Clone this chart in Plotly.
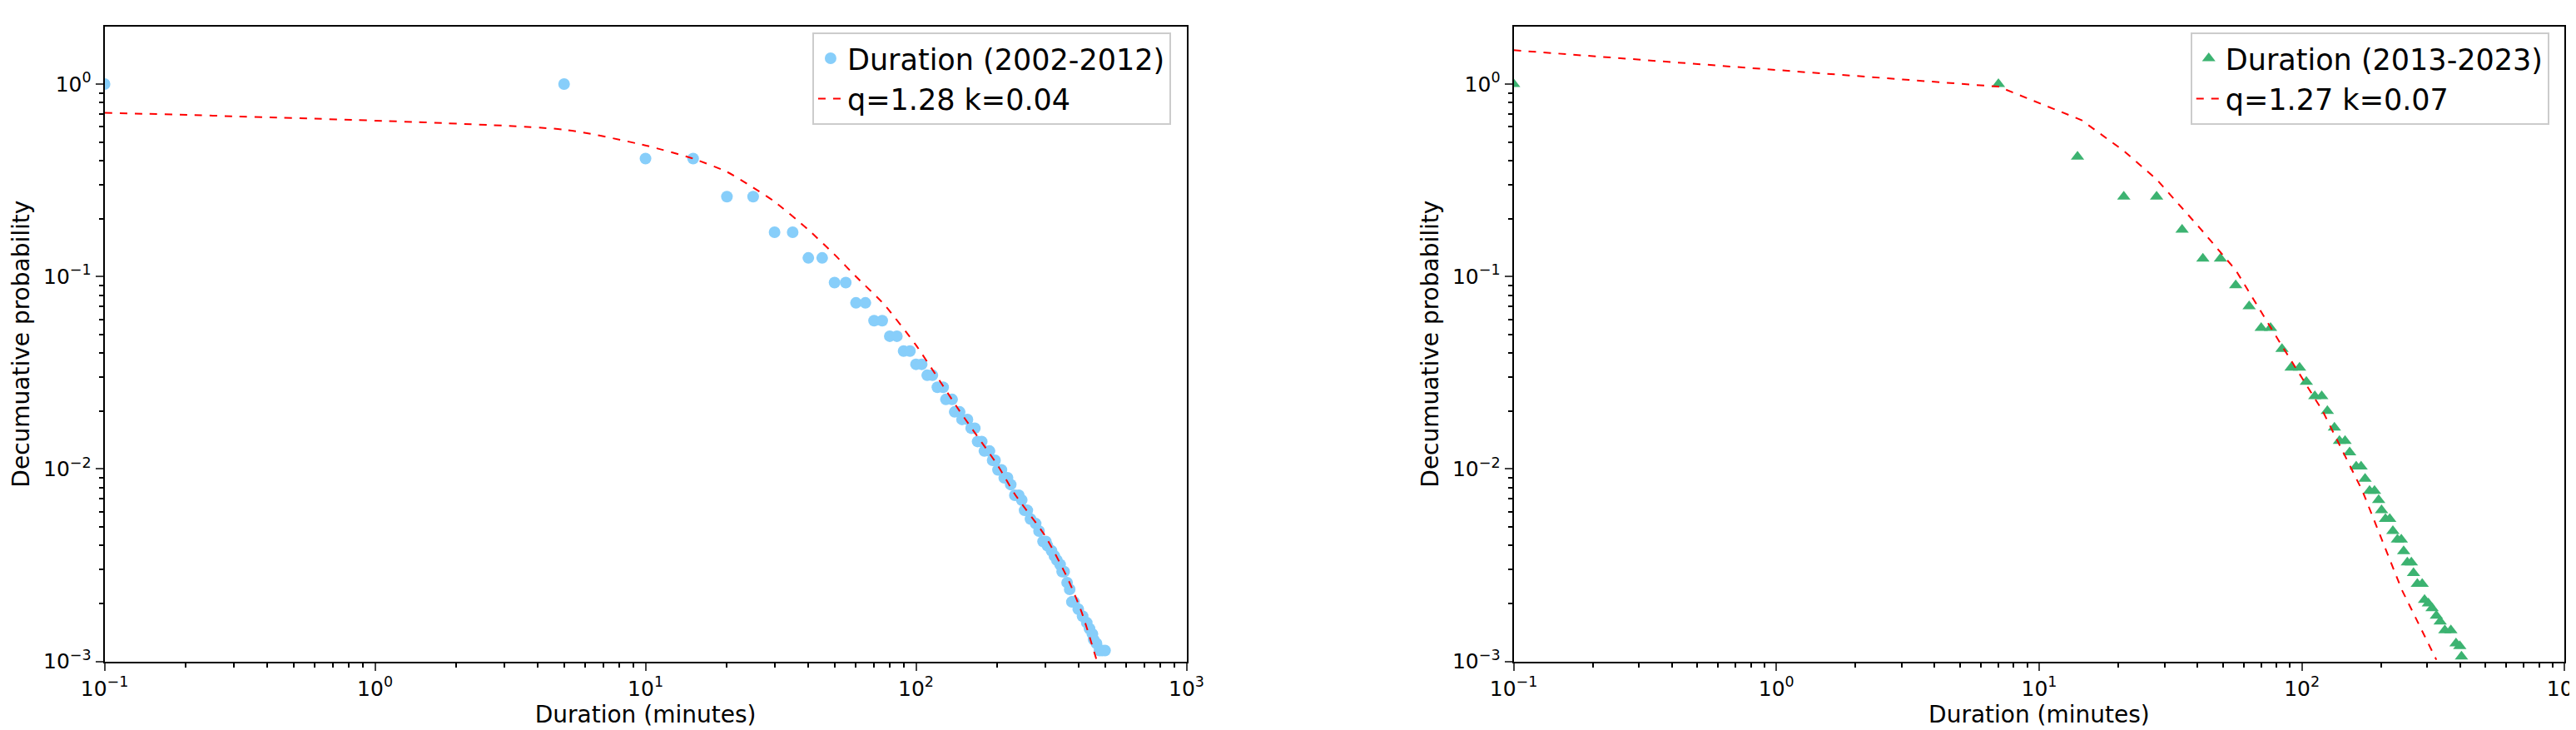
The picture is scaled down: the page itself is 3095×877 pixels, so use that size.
import plotly.graph_objects as go

# Left panel data (2002-2012)
x1 = [0.1, 5, 10, 15, 20, 25, 30, 35, 40, 45, 50, 55, 60, 65, 70, 75, 80, 85, 90, 95,
      100, 105, 110, 115, 120, 126, 129, 136, 139, 145, 148, 155, 160, 165, 169, 175,
      179, 187, 192, 196, 201, 207, 212, 218, 224, 232, 240, 246, 252, 258, 265, 277,
      285, 295, 302, 306, 317, 325, 332, 341, 347, 353, 362, 370, 377, 384, 398, 413,
      428, 438, 449, 454, 465, 477, 488, 500]
y1 = [1.0, 1.0, 0.41, 0.41, 0.26, 0.26, 0.17, 0.17, 0.125, 0.125, 0.093, 0.093, 0.073, 0.073,
      0.059, 0.059, 0.049, 0.049, 0.041, 0.041, 0.035, 0.035, 0.0307, 0.0307, 0.0266, 0.0266,
      0.023, 0.023, 0.0198, 0.0198, 0.0181, 0.0181, 0.0163, 0.0163, 0.0139, 0.0139, 0.0124,
      0.0124, 0.0111, 0.0111, 0.0099, 0.0099, 0.0090, 0.0090, 0.0083, 0.0073, 0.0073, 0.0069,
      0.0061, 0.0061, 0.0055, 0.0052, 0.00476, 0.0042, 0.0042, 0.0040, 0.00376, 0.00353,
      0.00336, 0.00319, 0.00293, 0.00293, 0.00257, 0.00237, 0.00204, 0.00204, 0.00187,
      0.00172, 0.00159, 0.00148, 0.00139, 0.0013, 0.00124, 0.00114, 0.00114, 0.00114]
fx1 = [0.1, 5, 10, 15, 20, 25, 30, 40, 50, 60, 76, 100, 145, 200, 232, 300, 362, 410, 465]
fy1 = [0.71, 0.58, 0.48, 0.41, 0.35, 0.29, 0.245, 0.175, 0.13, 0.1, 0.072, 0.044, 0.02,
       0.0105, 0.0074, 0.0045, 0.00274, 0.0018, 0.00102]

# Right panel data (2013-2023)
x2 = [0.1, 7, 14, 21, 28, 35, 42, 49, 56, 63, 70, 76, 84, 91, 98, 104, 112, 119, 125,
      133, 139, 146, 152, 161, 168, 174, 181, 189, 196, 201, 208, 216, 222, 231, 239, 244,
      252, 261, 266, 275, 287, 293, 303, 313, 325, 336, 350, 369, 386, 399, 405]
y2 = [1.0, 1.0, 0.42, 0.26, 0.26, 0.175, 0.124, 0.124, 0.09, 0.07, 0.054, 0.054, 0.042,
      0.0336, 0.0336, 0.0284, 0.0239, 0.0239, 0.02, 0.0164, 0.014, 0.014, 0.0122, 0.0103,
      0.0103, 0.0089, 0.0077, 0.0077, 0.0069, 0.0061, 0.0055, 0.0055, 0.00476, 0.0043,
      0.0043, 0.00374, 0.00327, 0.00327, 0.00288, 0.00253, 0.00253, 0.00209, 0.002,
      0.00189, 0.00173, 0.00161, 0.00145, 0.00145, 0.00124, 0.0012, 0.00106]
fx2 = [0.1, 7, 14.5, 21, 28, 41, 56, 82, 120, 170, 240, 325]
fy2 = [1.5, 0.97, 0.65, 0.45, 0.32, 0.178, 0.108, 0.046, 0.02, 0.0077, 0.00236, 0.00102]

xticks = [0.1, 1, 10, 100, 1000]
xticktext = ["10<sup>−1</sup>", "10<sup>0</sup>", "10<sup>1</sup>", "10<sup>2</sup>", "10<sup>3</sup>"]
yticks = [0.001, 0.01, 0.1, 1]
yticktext = ["10<sup>−3</sup>", "10<sup>−2</sup>", "10<sup>−1</sup>", "10<sup>0</sup>"]
xminor = [m * 10.0 ** e for e in range(-1, 3) for m in range(2, 10)]
yminor = [m * 10.0 ** e for e in range(-3, 1) for m in range(2, 10)]

FONT = "DejaVu Sans"
fig = go.Figure()
fig.add_trace(go.Scatter(x=x1, y=y1, mode="markers", name="Duration (2002-2012)",
                         marker=dict(color="#87CEFA", size=14, symbol="circle"),
                         xaxis="x", yaxis="y", legend="legend"))
fig.add_trace(go.Scatter(x=fx1, y=fy1, mode="lines", name="q=1.28 k=0.04",
                         line=dict(color="red", width=2, dash="dash", shape="spline", smoothing=0.6),
                         xaxis="x", yaxis="y", legend="legend"))
fig.add_trace(go.Scatter(x=x2, y=y2, mode="markers", name="Duration (2013-2023)",
                         marker=dict(color="#3CB371", size=14, symbol="triangle-up"),
                         xaxis="x2", yaxis="y2", legend="legend2"))
fig.add_trace(go.Scatter(x=fx2, y=fy2, mode="lines", name="q=1.27 k=0.07",
                         line=dict(color="red", width=2, dash="dash"),
                         xaxis="x2", yaxis="y2", legend="legend2"))

def xax(domain, anchor):
    return dict(type="log", range=[-1, 3], domain=domain, anchor=anchor, automargin=False,
                tickvals=xticks, ticktext=xticktext, ticks="outside", ticklen=9, tickwidth=2,
                minor=dict(ticks="outside", ticklen=5, tickwidth=1.5, tickcolor="black",
                           tickvals=xminor, showgrid=False),
                showline=True, linecolor="black", linewidth=2, mirror=True, showgrid=False,
                title=dict(text="Duration (minutes)", font=dict(size=28, family=FONT), standoff=6),
                tickfont=dict(size=25, family=FONT, color="black"), zeroline=False)

def yax(domain, anchor):
    return dict(type="log", range=[-3, 0.3], domain=domain, anchor=anchor, automargin=False,
                tickvals=yticks, ticktext=yticktext, ticks="outside", ticklen=9, tickwidth=2,
                minor=dict(ticks="outside", ticklen=5, tickwidth=1.5, tickcolor="black",
                           tickvals=yminor, showgrid=False),
                showline=True, linecolor="black", linewidth=2, mirror=True, showgrid=False,
                title=dict(text="Decumuative probability", font=dict(size=28, family=FONT), standoff=8),
                tickfont=dict(size=25, family=FONT, color="black"), zeroline=False)

leg = dict(font=dict(size=35, family=FONT, color="black"), bgcolor="rgba(255,255,255,0.8)",
           bordercolor="#cccccc", borderwidth=2, xanchor="right", yanchor="top", y=0.965)

fig.update_layout(
    width=3095, height=877, paper_bgcolor="white", plot_bgcolor="white",
    margin=dict(l=0, r=0, t=0, b=0),
    font=dict(family=FONT, color="black"),
    xaxis=xax([0.038, 0.458], "y"), yaxis=yax([0.103, 0.973], "x"),
    xaxis2=xax([0.585, 0.993], "y2"), yaxis2=yax([0.103, 0.973], "x2"),
    legend=dict(leg, x=0.452),
    legend2=dict(leg, x=0.987),
)
fig.write_html("out.html")
